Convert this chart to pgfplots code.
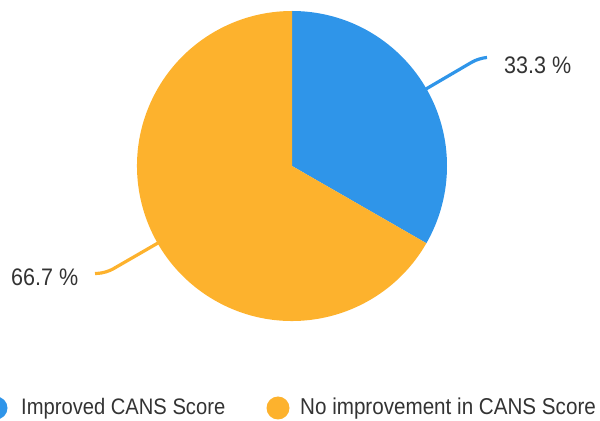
\documentclass[border=0pt]{standalone}
\usepackage{pgfplots}
\usepackage{pgfplotstable}
\pgfplotsset{compat=1.18}
\usepackage{fontspec}
\setmainfont{Liberation Sans}[FakeStretch=0.9]
\definecolor{blueC}{HTML}{2F95E9}
\definecolor{orangeC}{HTML}{FDB22D}
\definecolor{txt}{HTML}{333333}
\pgfplotstableread{
label value
Improved 33.3
NoImprovement 66.7
}\piedata
\begin{document}
\begin{tikzpicture}
\pgfplotstablegetelem{0}{value}\of\piedata \let\va\pgfplotsretval
\pgfplotstablegetelem{1}{value}\of\piedata \let\vb\pgfplotsretval
\pgfmathsetmacro{\angA}{90-3.6*\va}
\begin{axis}[
  at={(0,0)}, anchor=south west,
  scale only axis, width=600bp, height=421bp,
  xmin=0, xmax=600, ymin=0, ymax=421,
  hide axis, clip=false,
]
% invisible data plot anchoring the pie centre
\addplot[draw=none, mark=none] coordinates {(292,255)};
% slices
\fill[blueC] (axis cs:292,255) -- ++(90:155bp) arc[start angle=90, end angle=\angA, radius=155bp] -- cycle;
\fill[orangeC] (axis cs:292,255) -- ++(\angA:155bp) arc[start angle=\angA, end angle=-270, radius=155bp] -- cycle;
% leader lines
\draw[blueC, line width=3.2bp, rounded corners=8bp] (axis cs:426,332) -- (axis cs:479,363) -- (axis cs:487,363.5);
\draw[orangeC, line width=3.2bp, rounded corners=8bp] (axis cs:158,178) -- (axis cs:106,148) -- (axis cs:95,147.5);
% labels
\node[anchor=west, text=txt, font=\fontsize{24}{26}\selectfont, inner sep=0pt] at (axis cs:504,356) {\pgfmathprintnumber[fixed,fixed zerofill,precision=1,assume math mode=true]{\va}~\%};
\node[anchor=west, text=txt, font=\fontsize{24}{26}\selectfont, inner sep=0pt] at (axis cs:11,144) {\pgfmathprintnumber[fixed,fixed zerofill,precision=1,assume math mode=true]{\vb}~\%};
% legend
\fill[blueC] (axis cs:-4,13) circle[radius=11.5bp];
\node[anchor=west, text=txt, font=\fontsize{22.5}{25}\selectfont, inner sep=0pt] at (axis cs:21,12) {Improved CANS Score};
\fill[orangeC] (axis cs:278,13) circle[radius=11.5bp];
\node[anchor=west, text=txt, font=\fontsize{23}{25}\selectfont, inner sep=0pt] at (axis cs:300,12) {No improvement in CANS Score};
\end{axis}
\pgfresetboundingbox
\useasboundingbox (0,0) rectangle (600bp,421bp);
\end{tikzpicture}
\end{document}
